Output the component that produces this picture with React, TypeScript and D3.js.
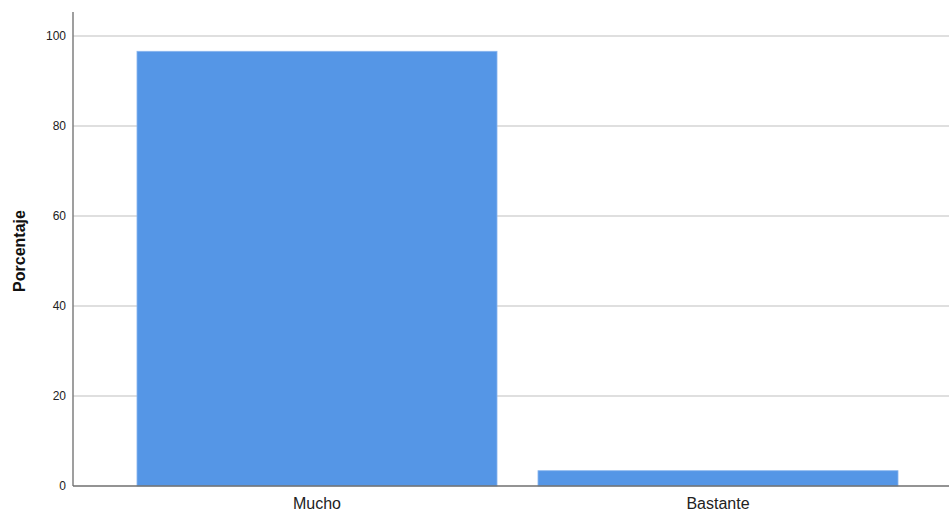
import React from "react";
import * as d3 from "d3";

const categories = ["Mucho", "Bastante"];
const values = [96.6, 3.4];
const yTicks = [0, 20, 40, 60, 80, 100];

export default function App() {
  const W = 949, H = 513;
  const x0 = 73, yTop = 12, yBase = 486;
  const y = d3.scaleLinear().domain([0, 100]).range([yBase, 36]);
  const x = d3.scaleBand<string>().domain(categories).range([116.5, 918.5]).paddingInner(0.1022).paddingOuter(0.0511);
  return (
    <svg width={W} height={H} style={{ position: "absolute", left: 0, top: 0, background: "#fff" }} fontFamily="Arial, Liberation Sans, sans-serif">
      {yTicks.filter(t => t > 0).map(t => (
        <line key={t} x1={x0} x2={W} y1={y(t)} y2={y(t)} stroke="#d4d4d4" strokeWidth={1.5} />
      ))}
      {categories.map((c, i) => (
        <rect key={c} x={x(c)} y={y(values[i])} width={x.bandwidth()} height={yBase - y(values[i])} fill="#5596E6" stroke="#8ab6ee" strokeWidth={0.8} />
      ))}
      <line x1={x0} x2={x0} y1={yTop} y2={yBase} stroke="#7f7f7f" strokeWidth={1.5} />
      <line x1={x0} x2={W} y1={yBase} y2={yBase} stroke="#6f6f6f" strokeWidth={1.5} />
      {yTicks.map(t => (
        <text key={t} x={66} y={y(t)} dy="0.35em" textAnchor="end" fontSize={12} fill="#222">{t}</text>
      ))}
      {categories.map(c => (
        <text key={c} x={(x(c) as number) + x.bandwidth() / 2} y={509} textAnchor="middle" fontSize={16} fill="#222">{c}</text>
      ))}
      <text transform={`translate(25,${(yTop + yBase) / 2 + 2}) rotate(-90)`} textAnchor="middle" fontSize={16} fontWeight="bold" fill="#111">Porcentaje</text>
    </svg>
  );
}
